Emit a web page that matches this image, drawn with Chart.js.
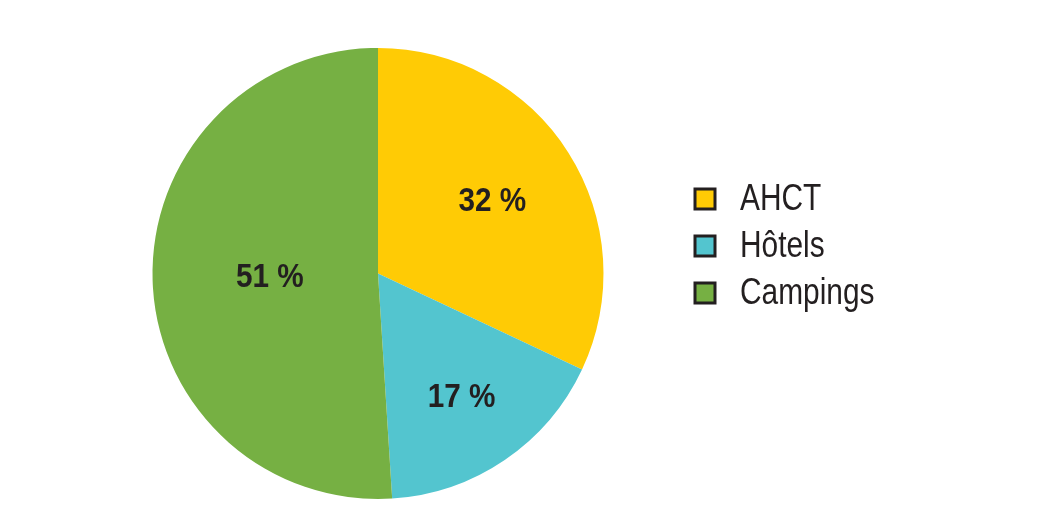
<!DOCTYPE html>
<html>
<head>
<meta charset="utf-8">
<script src="https://cdn.jsdelivr.net/npm/chart.js@4/dist/chart.umd.min.js"></script>
<style>
  html, body { margin: 0; padding: 0; background: #fff; }
  #wrap { width: 1064px; height: 530px; position: relative; }
</style>
</head>
<body>
<div id="wrap"><canvas id="pie" width="1064" height="530"></canvas></div>
<script>
// data
const labels = ['AHCT', 'Hôtels', 'Campings'];
const shares = [32, 17, 51];
const colors = ['#FFCB05', '#53C5CF', '#76B043'];
// how far out each % label sits (fraction of radius)
const labelDist = [0.6, 0.66, 0.48];

const fontName = "'Liberation Sans', Arial, sans-serif";

// condensed text: squeeze horizontally, since no narrow font is installed
function narrowText(ctx, txt, x, y, sx) {
  ctx.save();
  ctx.translate(x, y);
  ctx.scale(sx, 1);
  ctx.fillText(txt, 0, 0);
  ctx.restore();
}

// draws the % labels and the legend on the right
const extras = {
  id: 'extras',
  afterDatasetsDraw(chart) {
    const ctx = chart.ctx;
    const meta = chart.getDatasetMeta(0);
    ctx.save();
    ctx.fillStyle = '#231f20';
    ctx.font = 'bold 33px ' + fontName;
    ctx.textAlign = 'center';
    ctx.textBaseline = 'middle';
    meta.data.forEach(function(arc, i) {
      const mid = (arc.startAngle + arc.endAngle) / 2;
      const r = arc.outerRadius * labelDist[i];
      narrowText(ctx, shares[i] + ' %', arc.x + Math.cos(mid) * r, arc.y + Math.sin(mid) * r + 1, 0.9);
    });

    // legend
    ctx.font = '36px ' + fontName;
    ctx.textAlign = 'left';
    for (var i = 0; i < labels.length; i++) {
      const y = 199 + i * 47;
      ctx.fillStyle = colors[i];
      ctx.fillRect(695, y - 10, 20, 20);
      ctx.lineWidth = 3;
      ctx.strokeStyle = '#231f20';
      ctx.strokeRect(695, y - 10, 20, 20);
      ctx.fillStyle = '#231f20';
      narrowText(ctx, labels[i], 740, y + 1, 0.83);
    }
    ctx.restore();
  }
};

const config = {
  type: 'pie',
  data: {
    labels: labels,
    datasets: [{
      data: shares,
      backgroundColor: colors,
      borderWidth: 0
    }]
  },
  options: {
    responsive: false,
    animation: false,
    layout: {
      padding: { top: 48, bottom: 31, left: 152, right: 460 }
    },
    plugins: {
      legend: { display: false },
      tooltip: { enabled: false }
    }
  },
  plugins: [extras]
};

const chart = new Chart('pie', config);
</script>
</body>
</html>
